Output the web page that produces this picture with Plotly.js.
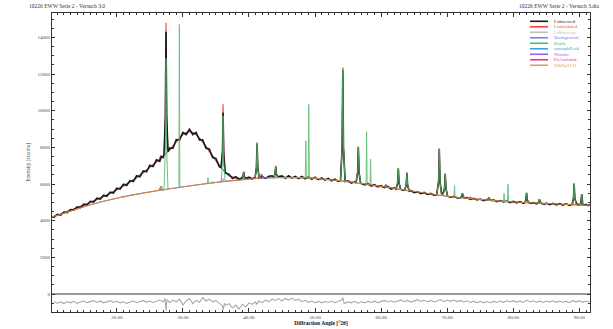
<!DOCTYPE html>
<html><head><meta charset="utf-8">
<script src="https://cdn.plot.ly/plotly-3.0.1.min.js"></script>
<style>html,body{margin:0;padding:0;background:#fff}#chart{width:613px;height:329px}</style>
</head><body><div id="chart"></div>
<script>
var GAP=[null,null];
var observed=[[10.2,4230],[10.5,4190],[11,4350],[11.5,4310],[12,4470],[12.5,4440],[13,4610],[13.5,4580],[14,4760],[14.5,4720],[15,4900],[15.5,4860],[16,5060],[16.5,5020],[17,5230],[17.5,5180],[18,5390],[18.5,5330],[19,5560],[19.5,5510],[20,5770],[20.5,5720],[21,5990],[21.5,5920],[22,6190],[22.5,6140],[23,6450],[23.5,6400],[24,6720],[24.5,6670],[25,7030],[25.5,6960],[26,7320],[26.5,7240],[26.75,7500],[27,7450],[27.15,7620],[27.35,9630],[27.45,14300],[27.55,9670],[27.75,7760],[28,7960],[28.5,7950],[29,8420],[29.5,8400],[30,8820],[30.5,8700],[31,8990],[31.5,8700],[32,8820],[32.5,8400],[33,8410],[33.5,7950],[34,7910],[34.5,7440],[35,7400],[35.5,6950],[35.78,6900],[36,7750],[36.08,9900],[36.18,7690],[36.4,6620],[37,6530],[37.5,6300],[38,6400],[38.5,6250],[38.9,6340],[39.1,6405],[39.2,6650],[39.3,6410],[39.5,6300],[40,6380],[40.5,6280],[40.93,6350],[41.13,6895],[41.23,8200],[41.33,6900],[41.55,6320],[42,6420],[42.5,6310],[43,6420],[43.5,6450],[43.75,6360],[43.95,6545],[44.05,6950],[44.15,6540],[44.35,6390],[45,6440],[45.5,6310],[46,6450],[46.5,6320],[47,6420],[47.5,6300],[48,6410],[48.5,6290],[49,6390],[49.5,6260],[50,6370],[50.5,6240],[51,6330],[51.5,6210],[52,6300],[52.5,6180],[53,6260],[53.5,6140],[53.85,6190],[54.1,7975],[54.2,12200],[54.3,7970],[54.55,6140],[55,6180],[55.5,6050],[56,6120],[56.2,6060],[56.45,6640],[56.55,8000],[56.65,6630],[56.9,6050],[57.5,5950],[58,6020],[58.5,5890],[59,5960],[59.5,5840],[60,5910],[60.5,5800],[61,5870],[61.5,5730],[62,5790],[62.25,5720],[62.5,6060],[62.6,6850],[62.7,6060],[62.95,5720],[63.3,5660],[63.55,5680],[63.8,5930],[63.9,6600],[64,5930],[64.25,5610],[64.5,5650],[65,5530],[65.5,5590],[66,5480],[66.5,5540],[67,5430],[67.5,5490],[68,5390],[68.4,5420],[68.7,6140],[68.8,7900],[68.9,6140],[69.15,5450],[69.4,5520],[69.6,5770],[69.7,6550],[69.8,5760],[70.05,5340],[70.5,5280],[71,5330],[71.5,5240],[72,5260],[72.2,5330],[72.3,5500],[72.4,5330],[72.65,5220],[73,5260],[73.5,5160],[74,5220],[74.5,5130],[75,5180],[75.5,5100],[76,5130],[76.2,5170],[76.3,5280],[76.4,5170],[76.7,5090],[77,5130],[77.5,5040],[78,5100],[78.5,5020],[79,5070],[79.5,4990],[80,5050],[80.5,4970],[81,5040],[81.5,4950],[81.75,5000],[81.9,5130],[82,5520],[82.1,5120],[82.35,4990],[82.7,4940],[83,4990],[83.5,4920],[83.75,4960],[83.85,5030],[83.95,5180],[84.05,5030],[84.3,4940],[84.7,4900],[85,4960],[85.5,4880],[86,4950],[86.5,4860],[87,4930],[87.5,4850],[88,4920],[88.5,4840],[88.9,4900],[89.1,5210],[89.2,6000],[89.3,5200],[89.55,4950],[89.8,4880],[90.2,4900],[90.35,5450],[90.5,4890],[90.75,4860],[91,4890],[91.3,4820],[91.6,4870]];
var calculated=[[10.2,4200],[11,4300],[12,4420],[13,4560],[14,4700],[15,4845],[16,5000],[17,5165],[18,5320],[19,5480],[20,5690],[21,5895],[22,6100],[23,6350],[24,6620],[25,6915],[26,7200],[26.4,7320],[26.64,7560],[26.85,7450],[27.15,7580],[27.35,9780],[27.45,14800],[27.55,9830],[27.75,7760],[28,7850],[29,8300],[30,8700],[31,8865],[32,8700],[33,8300],[34,7800],[35,7300],[35.5,7040],[35.78,6880],[36,7860],[36.08,10350],[36.18,7820],[36.4,6640],[37,6450],[38,6330],[38.9,6300],[39.1,6410],[39.2,6700],[39.3,6410],[39.5,6310],[40.5,6330],[40.93,6335],[41.13,6900],[41.23,8280],[41.33,6900],[41.55,6340],[41.75,6345],[41.9,6560],[42.05,6350],[43.75,6370],[43.95,6560],[44.05,7000],[44.15,6560],[44.35,6370],[48,6350],[50,6310],[52,6250],[53.85,6175],[54.1,8000],[54.2,12350],[54.3,8000],[54.55,6150],[56.2,6070],[56.45,6660],[56.55,8050],[56.65,6650],[56.9,6035],[58,5970],[60,5860],[60.5,5835],[60.7,5980],[60.9,5820],[62.25,5735],[62.5,6070],[62.6,6880],[62.7,6070],[62.95,5705],[63.55,5665],[63.8,5950],[63.9,6630],[64,5950],[64.25,5620],[66,5520],[68.4,5400],[68.7,6160],[68.8,7940],[68.9,6160],[69.15,5420],[69.4,5470],[69.6,5780],[69.7,6580],[69.8,5770],[70.05,5330],[72,5250],[72.2,5320],[72.3,5500],[72.4,5320],[72.65,5235],[73.3,5205],[73.5,5290],[73.7,5200],[76,5120],[76.2,5170],[76.3,5270],[76.4,5170],[76.7,5105],[80,5020],[81.75,4985],[81.9,5120],[82,5500],[82.1,5120],[82.35,4975],[83.75,4945],[83.85,5020],[83.95,5160],[84.05,5020],[84.3,4935],[88.9,4870],[89.1,5230],[89.2,6050],[89.3,5220],[89.55,4870],[90.2,4858],[90.35,5430],[90.5,4880],[90.75,4855],[91.6,4845]];
var difference=[[10.5,-420],[11,-500],[11.5,-430],[12,-520],[12.5,-410],[13,-480],[13.5,-400],[14,-510],[14.5,-440],[15,-380],[15.5,-470],[16,-420],[16.5,-360],[17,-450],[17.5,-390],[18,-480],[18.5,-420],[19,-360],[19.5,-450],[20,-400],[20.5,-480],[21,-420],[21.5,-510],[22,-440],[22.5,-380],[23,-470],[23.5,-400],[24,-350],[24.5,-450],[25,-380],[25.5,-460],[26,-390],[26.5,-330],[27,-420],[27.3,-250],[27.45,-900],[27.6,-300],[28,-470],[28.5,-330],[29,-420],[29.5,-280],[30,-600],[30.5,-380],[31,-250],[31.5,-520],[32,-350],[32.5,-450],[33,-200],[33.5,-380],[34,-280],[34.5,-430],[35,-350],[35.5,-520],[36,-650],[36.1,-850],[36.3,-500],[36.5,-620],[37,-530],[37.5,-750],[38,-600],[38.5,-820],[39,-560],[39.5,-700],[40,-480],[40.5,-560],[41,-420],[41.2,-550],[41.5,-380],[42,-470],[42.5,-320],[43,-420],[43.5,-280],[44,-350],[44.5,-250],[45,-380],[45.5,-240],[46,-330],[46.5,-220],[47,-350],[47.5,-280],[48,-420],[48.5,-340],[49,-450],[49.5,-380],[50,-470],[50.5,-400],[51,-480],[51.5,-410],[52,-460],[52.5,-380],[53,-470],[53.5,-400],[54,-330],[54.2,-200],[54.4,-520],[55,-430],[55.5,-480],[56,-400],[56.5,-500],[57,-420],[57.5,-480],[58,-400],[58.5,-460],[59,-390],[59.5,-470],[60,-400],[60.5,-350],[61,-430],[61.5,-370],[62,-450],[62.5,-380],[63,-320],[63.5,-420],[64,-350],[64.5,-440],[65,-370],[65.5,-310],[66,-400],[66.5,-340],[67,-420],[67.5,-350],[68,-430],[68.5,-360],[69,-300],[69.5,-420],[70,-340],[70.5,-400],[71,-330],[71.5,-410],[72,-350],[72.5,-430],[73,-370],[73.5,-460],[74,-390],[74.5,-470],[75,-400],[75.5,-480],[76,-410],[76.5,-470],[77,-400],[77.5,-460],[78,-380],[78.5,-450],[79,-370],[79.5,-430],[80,-360],[80.5,-440],[81,-380],[81.5,-460],[82,-330],[82.5,-430],[83,-370],[83.5,-450],[84,-390],[84.5,-460],[85,-380],[85.5,-440],[86,-370],[86.5,-450],[87,-380],[87.5,-460],[88,-390],[88.5,-470],[89,-350],[89.5,-440],[90,-360],[90.5,-450],[91,-380],[91.5,-430]];
var background=[[10.2,4200],[12,4420],[14,4650],[16,4870],[18,5060],[20,5230],[22,5380],[24,5510],[26,5630],[28,5740],[30,5850],[32,5950],[34,6040],[36,6130],[38,6210],[40,6280],[42,6330],[44,6360],[46,6370],[48,6350],[50,6310],[52,6250],[54,6170],[56,6080],[58,5970],[60,5860],[62,5750],[64,5630],[66,5520],[68,5420],[70,5330],[72,5250],[74,5180],[76,5120],[78,5070],[80,5020],[82,4980],[84,4940],[86,4910],[88,4880],[90,4860],[91.6,4845]];
var rutile=[[26.6,5660],[26.8,5880],[26.95,5675],[27.15,5690],[27.35,7835],[27.45,12860],[27.55,7845],[27.75,5710],GAP,[29.4,5820],[29.47,14700],[29.54,5825],GAP,[33.72,6030],[33.8,6350],[33.88,6033],GAP,[34.42,6060],[34.5,6150],[34.58,6065],GAP,[35.78,6120],[36.0,7190],[36.08,9715],[36.18,7165],[36.4,6145],GAP,[38.9,6240],[39.1,6365],[39.2,6645],[39.3,6370],[39.5,6260],GAP,[40.93,6305],[41.13,6880],[41.23,8250],[41.33,6880],[41.55,6315],GAP,[43.75,6358],[43.95,6545],[44.05,6980],[44.15,6545],[44.35,6362],GAP,[48.52,6342],[48.6,8350],[48.68,6340],GAP,[48.97,6332],[49.05,10340],[49.13,6330],GAP,[53.85,6180],[54.1,7995],[54.2,12350],[54.3,7990],[54.55,6160],GAP,[56.2,6090],[56.45,6660],[56.55,8030],[56.65,6650],[56.9,6065],GAP,[57.72,6015],[57.8,8850],[57.88,6012],GAP,[58.32,5990],[58.4,7360],[58.48,5985],GAP,[62.25,5735],[62.5,6070],[62.6,6880],[62.7,6065],[62.95,5720],GAP,[63.55,5680],[63.8,5955],[63.9,6630],[64.0,5950],[64.25,5615],GAP,[68.4,5400],[68.7,6160],[68.8,7940],[68.9,6160],[69.15,5375],[69.4,5365],[69.6,5780],[69.7,6580],[69.8,5775],[70.05,5330],GAP,[71.02,5290],[71.1,5920],[71.18,5288],GAP,[72.0,5250],[72.2,5320],[72.3,5500],[72.4,5320],[72.65,5240],GAP,[76.0,5120],[76.2,5165],[76.3,5290],[76.4,5165],[76.7,5110],GAP,[78.52,5055],[78.6,5490],[78.68,5054],GAP,[79.12,5042],[79.2,5990],[79.28,5040],GAP,[81.75,4985],[81.9,5120],[82.0,5520],[82.1,5120],[82.35,4975],GAP,[83.75,4945],[83.85,5020],[83.95,5180],[84.05,5020],[84.3,4938],GAP,[88.9,4870],[89.1,5210],[89.2,6030],[89.3,5205],[89.55,4866],GAP,[90.1,4858],[90.25,4960],[90.35,5450],[90.45,4950],[90.6,4856]];
var amorphPeak=[[10.2,4200],[12,4420],[14,4700],[16,5000],[18,5320],[20,5690],[22,6100],[24,6620],[26,7200],[28,7850],[29,8300],[30,8700],[31,8865],[32,8700],[33,8300],[34,7800],[35,7300],[36,6800],[37,6450],[38,6330],[40,6300],[42,6335],[44,6360],[46,6370],[48,6350]];
var wustite=[[35.7,6118],[36.0,6290],[36.3,6140],GAP,[41.6,6318],[41.9,6540],[42.2,6337],GAP,[60.4,5840],[60.7,5970],[61.0,5805],GAP,[72.4,5237],[72.6,5300],[72.8,5228]];
var poAurimite=[[26.3,5650],[26.5,5760],[26.7,5665],GAP,[49.8,6318],[50.0,6390],[50.2,6305],GAP,[73.3,5205],[73.5,5290],[73.7,5195],GAP,[88.8,4876],[89.0,4960],[89.2,4872]];
var sio2=[[10.2,4200],[12,4420],[14,4650],[16,4870],[18,5060],[20,5230],[20.7,5280],[20.86,5345],[21.0,5292],[22,5380],[24,5510],[26,5630],[26.45,5655],[26.64,5880],[26.8,5665],[28,5740],[30,5850],[32,5950],[34,6040],[36,6130],[38,6210],[40,6280],[42,6330],[44,6360],[46,6370],[48,6350],[50,6310],[52,6250],[54,6170],[56,6080],[58,5970],[60,5860],[62,5750],[64,5630],[66,5520],[68,5420],[70,5330],[72,5250],[74,5180],[76,5120],[78,5070],[80,5020],[82,4980],[84,4940],[86,4910],[88,4880],[90,4860],[91.6,4845]];

var seriesNames=['I observed','I calculated','I difference','Background','Rutile','amorphPeak','Wustite','PoAurimite','SiO2p3121'];
var seriesColors=['#1a1a1a','#ff3b3b','#c0c0c0','#7b7bff','#55b96a','#3d9ee0','#a45cf0','#e8338a','#d2a064'];
var titleLeft='10226 EWW Serie 2 - Versuch 3.0';
var titleRight='10226 EWW Serie 2 - Versuch 3.dia';

function X(p){return p.map(function(d){return d[0];});}
function Y(p){return p.map(function(d){return d[1];});}
function tr(p,i,w,shape,op,col){return {x:X(p),y:Y(p),type:'scatter',mode:'lines',name:seriesNames[i],
  line:{color:col||seriesColors[i],width:w,shape:shape||'linear'},opacity:op||1,connectgaps:false,hoverinfo:'skip'};}

var data=[
  tr(background,3,1,'spline'),
  tr(amorphPeak,5,1.2,'spline'),
  tr(calculated,1,1.1),
  tr(observed,0,1.6),
  tr(difference,2,1.1,'linear',1,'#a8a8a8'),
  tr(rutile,4,1,'linear',0.85),
  tr(wustite,6,1),
  tr(poAurimite,7,1),
  tr(sio2,8,1.1,'linear',1,'#c98a45')
];

var F='"Liberation Serif", "DejaVu Serif", serif';
var L=52,R=590,T=12.7,B=312;
function px(x){return (x-L)/(R-L);} function py(y){return (B-y)/(B-T);}
var shapes=[],ann=[];
seriesNames.forEach(function(n,i){
  var yy=py(21+5.5*i);
  shapes.push({type:'line',xref:'paper',yref:'paper',x0:px(530),x1:px(548),y0:yy,y1:yy,line:{color:seriesColors[i],width:1.6}});
  ann.push({xref:'paper',yref:'paper',x:px(552),y:yy,xanchor:'left',yanchor:'middle',text:n,showarrow:false,font:{family:F,size:5,color:seriesColors[i]}});
});
ann.push({xref:'paper',yref:'paper',x:px(27),y:py(5.5),xanchor:'left',yanchor:'middle',text:titleLeft,showarrow:false,font:{family:F,size:5.5,color:'#333'}});
ann.push({xref:'paper',yref:'paper',x:px(602),y:py(6),xanchor:'right',yanchor:'middle',text:titleRight,showarrow:false,font:{family:F,size:5.5,color:'#333'}});

var layout={width:613,height:329,margin:{l:52,r:23,t:13,b:17,pad:0},
  paper_bgcolor:'#fff',plot_bgcolor:'#fff',showlegend:false,
  xaxis:{range:[10.2,91.6],showline:true,linecolor:'#333',linewidth:1,mirror:'ticks',ticks:'inside',ticklen:4,tickcolor:'#333',tickwidth:1,
    tick0:0,dtick:10,tickformat:'.2f',tickfont:{family:F,size:5,color:'#444'},showgrid:false,zeroline:false,
    minor:{dtick:1,ticks:'inside',ticklen:2,tickcolor:'#333'},
    title:{text:'<b>Diffraction Angle [°2θ]</b>',font:{family:F,size:5.5,color:'#111'},standoff:2}},
  yaxis:{range:[-980,15330],showline:true,linecolor:'#333',linewidth:1,mirror:'ticks',ticks:'inside',ticklen:3,tickcolor:'#333',tickwidth:1,
    tick0:0,dtick:2000,tickformat:'d',tickfont:{family:F,size:5,color:'#444'},showgrid:false,
    zeroline:true,zerolinecolor:'#9a9a9a',zerolinewidth:1.6,
    minor:{dtick:500,ticks:'inside',ticklen:2,tickcolor:'#333'},
    title:{text:'Intensity [counts]',font:{family:F,size:5.5,color:'#333'},standoff:6}},
  shapes:shapes,annotations:ann};
Plotly.newPlot('chart',data,layout,{displayModeBar:false,staticPlot:true});
</script></body></html>
